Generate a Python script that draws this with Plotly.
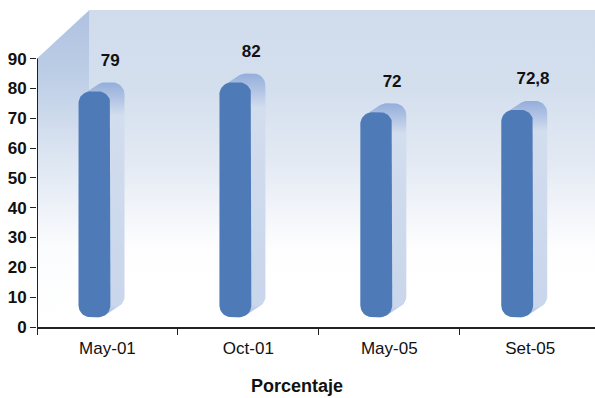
import plotly.graph_objects as go

# Survey results by period (percent)
categories = ["May-01", "Oct-01", "May-05", "Set-05"]
values = [79, 82, 72, 72.8]
value_labels = ["79", "82", "72", "72,8"]
y_ticks = [0, 10, 20, 30, 40, 50, 60, 70, 80, 90]

FONT = "Liberation Sans, Arial, sans-serif"
FRONT = "#4e7ab8"

# bar geometry in axis units (relative to category index)
BAR_L, BAR_R = -0.205, 0.021
BAR_BASE = 3.3
RX, RY = 0.085, 4.0
DX, DY = 0.10, 3.0
X_MIN, X_MAX = -0.5, 3.46
Y_MAX = 106.3
WALL_X = -0.128
WALL_FLOOR = 16.0


def rounded_rect(x0, x1, y0, y1, rx, ry, n=10):
    import math
    corners = [
        (x0 + rx, y0 + ry, 180, 270),
        (x1 - rx, y0 + ry, 270, 360),
        (x1 - rx, y1 - ry, 0, 90),
        (x0 + rx, y1 - ry, 90, 180),
    ]
    xs, ys = [], []
    for cx, cy, a0, a1 in corners:
        for k in range(n + 1):
            a = math.radians(a0 + (a1 - a0) * k / n)
            xs.append(cx + rx * math.cos(a))
            ys.append(cy + ry * math.sin(a))
    xs.append(xs[0])
    ys.append(ys[0])
    return xs, ys


def hull(points):
    pts = sorted(set(points))

    def cross(o, a, b):
        return (a[0] - o[0]) * (b[1] - o[1]) - (a[1] - o[1]) * (b[0] - o[0])

    lower, upper = [], []
    for p in pts:
        while len(lower) >= 2 and cross(lower[-2], lower[-1], p) <= 0:
            lower.pop()
        lower.append(p)
    for p in reversed(pts):
        while len(upper) >= 2 and cross(upper[-2], upper[-1], p) <= 0:
            upper.pop()
        upper.append(p)
    h = lower[:-1] + upper[:-1]
    h.append(h[0])
    return [p[0] for p in h], [p[1] for p in h]


fig = go.Figure()

# back wall
fig.add_trace(go.Scatter(
    x=[WALL_X, X_MAX, X_MAX, WALL_X, WALL_X],
    y=[WALL_FLOOR, WALL_FLOOR, Y_MAX, Y_MAX, WALL_FLOOR],
    mode="lines", line=dict(width=0), fill="toself",
    fillgradient=dict(type="vertical", colorscale=[
        [0, "#ffffff"], [0.12, "#fdfdfe"], [0.45, "#e2e9f3"],
        [0.7, "#d4dfee"], [1, "#d0dcec"]]),
    hoverinfo="skip", showlegend=False))

# left wall
fig.add_trace(go.Scatter(
    x=[X_MIN, X_MIN, WALL_X, WALL_X, X_MIN],
    y=[0, 90, Y_MAX, WALL_FLOOR, 0],
    mode="lines", line=dict(width=0), fill="toself",
    fillgradient=dict(type="vertical", colorscale=[
        [0, "#ffffff"], [0.25, "#fbfcfe"], [0.55, "#dbe4f1"],
        [0.8, "#bccde6"], [1, "#afc2e0"]]),
    hoverinfo="skip", showlegend=False))

for i, v in enumerate(values):
    fx, fy = rounded_rect(i + BAR_L, i + BAR_R, BAR_BASE, v, RX, RY)
    pts = list(zip(fx, fy)) + [(x + DX, y + DY) for x, y in zip(fx, fy)]
    hx, hy = hull(pts)
    # depth (side and top faces)
    fig.add_trace(go.Scatter(
        x=hx, y=hy, mode="lines", line=dict(width=0), fill="toself",
        fillgradient=dict(type="vertical", colorscale=[
            [0, "#a3b9df"], [0.05, "#c9d6eb"], [0.86, "#d2ddee"],
            [0.93, "#b2c4e4"], [1, "#94aedb"]]),
        hoverinfo="skip", showlegend=False))
    # front face
    fig.add_trace(go.Scatter(
        x=fx, y=fy, mode="lines", line=dict(width=0), fill="toself",
        fillcolor=FRONT, hoverinfo="skip", showlegend=False))

# value labels
fig.add_trace(go.Scatter(
    x=[i + 0.02 for i in range(len(values))],
    y=[v + 10 for v in values],
    mode="text", text=value_labels,
    textfont=dict(family=FONT, size=17, color="#111111", weight="bold"),
    hoverinfo="skip", showlegend=False))

fig.update_layout(
    width=595, height=398,
    margin=dict(l=37, r=0, t=10, b=71),
    paper_bgcolor="white", plot_bgcolor="white",
    xaxis=dict(
        range=[X_MIN, X_MAX], tickvals=list(range(len(categories))),
        ticktext=categories, ticks="", showgrid=False, zeroline=False,
        showline=True, linecolor="#222222", linewidth=2,
        tickfont=dict(family=FONT, size=17, color="#111111"),
        ticklabelstandoff=5,
        minor=dict(ticks="outside", tick0=0.5, dtick=1, ticklen=6,
                   tickcolor="#222222", tickwidth=1, showgrid=False),
    ),
    yaxis=dict(
        range=[0, Y_MAX], tickvals=y_ticks, ticks="outside", ticklen=6,
        tickcolor="#222222", tickwidth=1, showgrid=False, zeroline=False,
        showline=False,
        tickfont=dict(family=FONT, size=17, color="#111111", weight="bold"),
    ),
    shapes=[dict(type="line", xref="x", yref="y", x0=X_MIN, x1=X_MIN,
                 y0=0, y1=90, line=dict(color="#222222", width=2))],
    annotations=[dict(text="Porcentaje", xref="paper", yref="paper",
                      x=(297 - 37) / 558, y=-(386 - 327) / 317,
                      yanchor="middle", showarrow=False,
                      font=dict(family=FONT, size=18, color="#111111",
                                weight="bold"))],
)

fig.write_html("out.html")
